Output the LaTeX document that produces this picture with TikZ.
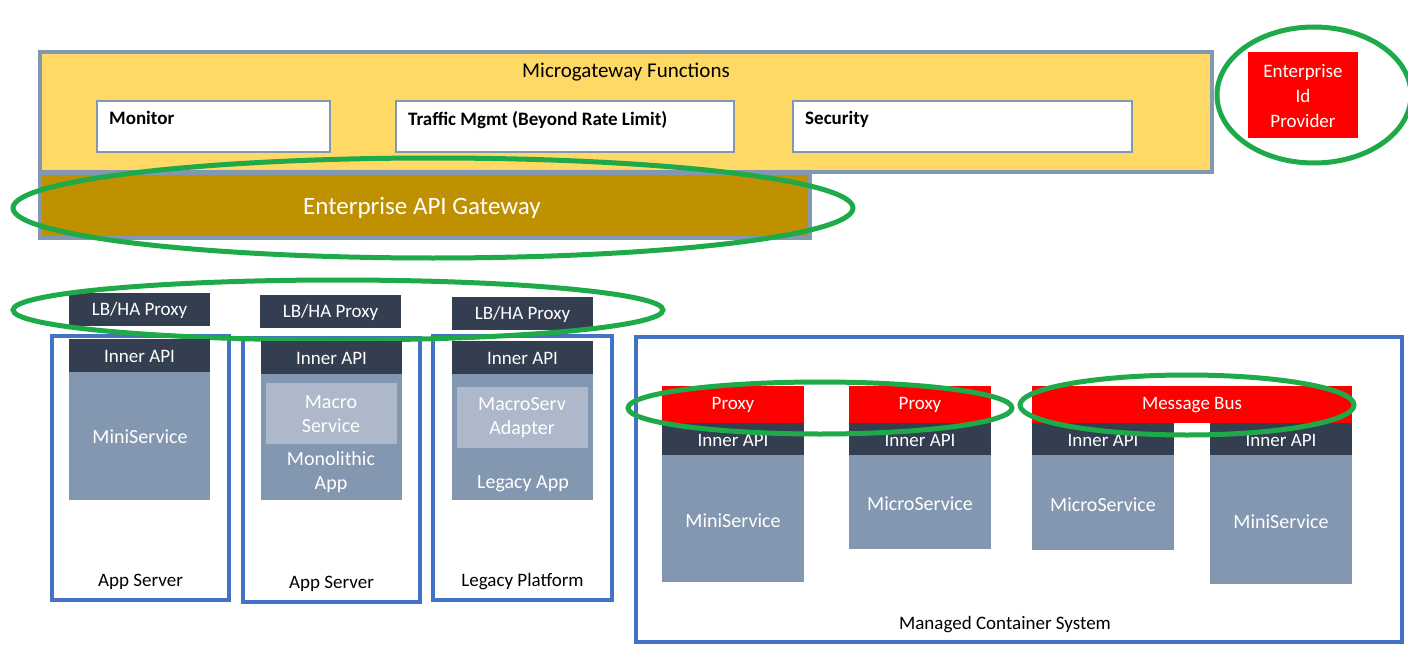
\documentclass[tikz,border=0pt]{standalone}
\usepackage{fontspec}
\setmainfont{Carlito}
\definecolor{gold}{HTML}{FFD966}
\definecolor{bord}{HTML}{8497B0}
\definecolor{dgold}{HTML}{BF9000}
\definecolor{navy}{HTML}{333F50}
\definecolor{slate}{HTML}{8497B0}
\definecolor{light}{HTML}{ADB9CA}
\definecolor{bluebd}{HTML}{4472C4}
\definecolor{grn}{HTML}{1FAA4A}
\definecolor{red1}{HTML}{FF0000}
\begin{document}
\begin{tikzpicture}[x=1pt,y=-1pt,
 body/.style={text=white,font=\fontsize{20}{24}\selectfont,align=center},
 redb/.style={text=white,font=\fontsize{19}{22}\selectfont,align=center},
 dtx/.style={text=white,font=\fontsize{19}{20}\selectfont},
 cont/.style={draw=bluebd,line width=3.5pt},
 ell/.style={draw=grn,line width=5pt},
 wb/.style={draw=bord,fill=white,line width=1.5pt},
 lbl/.style={font=\fontsize{19}{20}\selectfont}]
\useasboundingbox (0,0) rectangle (1408,650);
% Microgateway
\path[fill=gold,draw=bord,line width=4pt] (40,52) rectangle (1212,172);
\node[lbl,font=\fontsize{21}{22}\selectfont] (mgt) at (626,72) {Microgateway Functions};
\foreach \a/\b/\t/\n in {97/330/Monitor/mon,396/734/{Traffic Mgmt (Beyond Rate Limit)}/tm,793/1132/Security/sec}{
 \draw[wb] (\a,101) rectangle (\b,152);
 \node[anchor=north west,font=\bfseries\fontsize{19}{20}\selectfont,inner sep=0] (\n) at (\a+12,111) {\t};}
% gateway
\path[fill=dgold,draw=bord,line width=4pt] (40,173) rectangle (810,238);
\node[text=white,font=\fontsize{25}{26}\selectfont] (gw) at (422,208) {Enterprise API Gateway};
\draw[ell] (433,208) ellipse [x radius=420,y radius=50];
% id provider
\path[fill=red1] (1248,52) rectangle (1358,138);
\node[text=white,align=center,font=\fontsize{19}{25}\selectfont] (idp) at (1303,96) {Enterprise\\Id\\Provider};
\draw[ell] (1314,95) ellipse [x radius=97,y radius=68];
% app servers
\foreach \a/\b/\t/\ty/\n in {52/229/App Server/582/as1,243/420/App Server/584/as2,433/612/Legacy Platform/582/lp}{
 \draw[cont] (\a,\ty-246) rectangle (\b,\ty+18);
 \node[lbl] (\n) at ({(\a+\b)/2},\ty) {\t};}
\foreach \a/\y/\n in {69/293/p1,260/295/p2,452/297/p3}{
 \path[fill=navy] (\a,\y) rectangle (\a+141,\y+33);
 \node[dtx] (\n) at (\a+70.5,\y+17) {LB/HA Proxy};}
\draw[ell] (338,310) ellipse [x radius=325,y radius=30];
\foreach \a/\y/\n in {69/339/i1,261/341/i2,452/341/i3}{
 \path[fill=navy] (\a,\y) rectangle (\a+141,\y+33);
 \node[dtx] (\n) at (\a+70.5,\y+17) {Inner API};
 \path[fill=slate] (\a,\y+33) rectangle (\a+141,500);}
\node[body] (ms1) at (140,437) {MiniService};
\path[fill=light] (266,383) rectangle (397,444);
\node[body] (mac) at (331,414) {Macro\\Service};
\node[body] (mono) at (331,472) {Monolithic\\App};
\path[fill=light] (457,387) rectangle (588,448);
\node[body] (mad) at (522,418) {MacroServ\\Adapter};
\node[body] (leg) at (523,484) {Legacy App};
% managed container
\draw[cont] (636,337) rectangle (1402,642);
\node[lbl] (mcs) at (1005,625) {Managed Container System};
\foreach \a/\bot/\t/\n in {662/582/MiniService/c1,849/549/MicroService/c2,1032/550/MicroService/c3,1210/584/MiniService/c4}{
 \path[fill=navy] (\a,423) rectangle (\a+142,455);
 \node[dtx] (\n i) at (\a+71,440) {Inner API};
 \path[fill=slate] (\a,455) rectangle (\a+142,\bot);
 \node[body] (\n) at (\a+71,{(455+\bot)/2+2}) {\t};}
\path[fill=red1] (662,386) rectangle (804,423);
\node[redb] (px1) at (733,405) {Proxy};
\path[fill=red1] (849,386) rectangle (991,423);
\node[redb] (px2) at (920,405) {Proxy};
\path[fill=red1] (1032,386) rectangle (1352,423);
\node[redb] (mb) at (1192,405) {Message Bus};
\draw[ell] (820,408) ellipse [x radius=192,y radius=26];
\draw[ell] (1187,405) ellipse [x radius=167,y radius=30];
\end{tikzpicture}
\end{document}
